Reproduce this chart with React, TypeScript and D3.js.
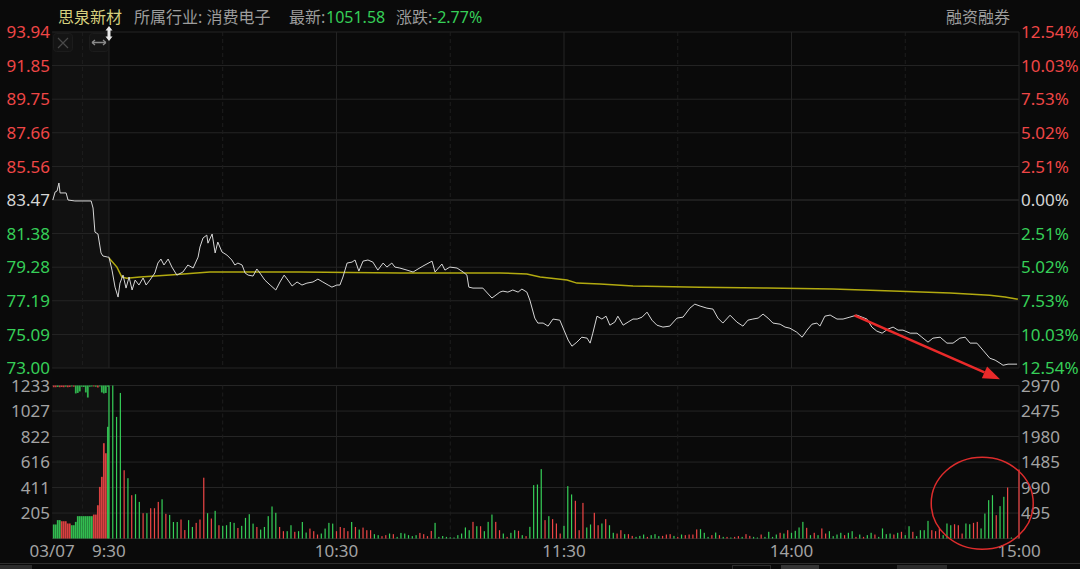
import React from 'react';
import * as d3 from 'd3';

// ---------- header texts ----------
const stockName = '思泉新材';
const industryLabel = '所属行业: 消费电子';
const latestLabel = '最新:';
const latestValue = '1051.58';
const changeLabel = '涨跌:';
const changeValue = '-2.77%';
const marginLabel = '融资融券';

// ---------- axes ----------
const prevClose = 83.47;
const priceTicks = [93.94, 91.85, 89.75, 87.66, 85.56, 83.47, 81.38, 79.28, 77.19, 75.09, 73.0];
const pctTicks = ['12.54%', '10.03%', '7.53%', '5.02%', '2.51%', '0.00%', '2.51%', '5.02%', '7.53%', '10.03%', '12.54%'];
const volTicksLeft = [1233, 1027, 822, 616, 411, 205];
const volTicksRight = ['2970', '2475', '1980', '1485', '990', '495'];
const timeTicks: [number, string][] = [[-15, '03/07'], [0, '9:30'], [60, '10:30'], [120, '11:30'], [180, '14:00'], [240, '15:00']];
const gridMinutes: [number, boolean][] = [[-7, true], [0, false], [30, true], [60, false], [90, true], [120, false], [150, true], [180, false], [210, true], [240, false]];

// ---------- price series: [minute from 9:30 (trading time), price] ----------
const pricePoints: [number, number][] = [
  [-14.8, 83.47], [-14.2, 83.97], [-13.7, 84.03], [-13.2, 84.53], [-12.9, 83.91], [-11.3, 83.91], [-10.8, 83.47],
  [-9.0, 83.41], [-4.7, 83.41], [-4.2, 82.97], [-3.7, 81.47], [-2.9, 81.35], [-2.1, 80.17], [-1.6, 79.98], [-0.3, 79.91],
  [0, 79.91], [0.8, 79.10], [1.6, 78.04], [2.4, 77.42], [2.9, 78.29], [3.7, 78.79], [4.5, 77.98], [5.3, 78.67],
  [6.1, 77.86], [6.9, 78.48], [7.9, 78.17], [9.0, 78.61], [9.8, 78.17], [10.8, 78.48], [12.1, 78.92], [12.9, 79.54],
  [13.7, 79.79], [14.5, 79.42], [15.6, 79.79], [16.6, 79.29], [17.9, 78.79], [19.5, 78.98], [20.8, 79.42], [22.2, 79.23],
  [23.5, 79.91], [24.0, 80.54], [24.8, 81.10], [25.8, 81.28], [26.1, 80.78], [27.2, 81.35], [28.0, 80.17], [28.7, 80.85],
  [29.8, 80.23], [31.1, 80.04], [32.4, 79.73], [33.2, 79.42], [34.0, 79.54], [35.1, 79.42], [35.9, 78.92], [36.7, 78.79],
  [38.0, 78.73], [39.0, 79.17], [39.8, 78.92], [41.1, 78.48], [42.5, 78.17], [44.0, 77.86], [45.1, 78.36], [46.2, 78.79],
  [47.2, 78.48], [48.3, 78.11], [49.6, 78.36], [50.9, 78.17], [52.2, 78.29], [53.8, 78.36], [55.1, 78.54], [56.4, 78.36],
  [57.8, 78.17], [58.8, 78.04], [60.1, 78.17], [60.9, 78.17], [61.7, 78.67], [62.8, 79.54], [64.1, 79.60], [64.9, 79.73],
  [65.9, 79.04], [67.0, 79.66], [68.3, 79.73], [69.6, 79.60], [70.9, 79.10], [72.3, 79.54], [73.3, 79.29], [74.6, 79.54],
  [75.4, 79.29], [76.7, 79.23], [78.6, 79.10], [80.2, 78.98], [81.5, 79.17], [82.8, 79.35], [85.2, 79.66], [86.0, 78.98],
  [87.8, 79.48], [88.6, 79.10], [89.9, 79.29], [91.8, 79.23], [93.4, 78.98], [94.4, 78.79], [94.9, 78.04], [96.0, 77.98],
  [98.6, 77.98], [101.0, 77.36], [103.1, 77.73], [103.9, 77.79], [105.2, 77.73], [106.5, 77.86], [107.9, 77.73], [108.9, 77.92],
  [110.2, 77.73], [111.0, 77.23], [112.3, 76.11], [113.1, 75.80], [114.5, 75.80], [115.8, 75.61], [117.1, 76.05], [118.9, 75.98],
  [120.0, 75.36], [121.1, 74.74], [122.1, 74.36], [123.4, 74.61], [124.7, 74.92], [126.1, 74.86], [126.9, 74.55], [127.6, 75.17],
  [128.7, 76.23], [130.0, 76.05], [131.1, 76.23], [132.1, 75.67], [133.4, 75.86], [134.2, 76.23], [135.6, 75.67], [136.9, 75.86],
  [138.2, 76.05], [139.3, 76.05], [140.6, 76.17], [141.9, 76.48], [143.2, 75.98], [144.5, 75.67], [146.1, 75.55], [147.9, 75.61],
  [149.8, 76.11], [151.4, 76.17], [153.2, 76.73], [154.5, 76.98], [155.9, 76.86], [157.7, 76.73], [159.3, 76.67], [160.6, 76.11],
  [161.9, 75.80], [163.8, 76.29], [165.6, 75.86], [167.2, 75.61], [168.5, 75.98], [169.8, 76.05], [171.2, 76.11], [172.5, 76.36],
  [173.8, 76.11], [175.1, 75.80], [177.0, 75.73], [178.3, 75.55], [179.6, 75.48], [181.4, 75.23], [182.8, 74.92], [184.1, 75.36],
  [185.4, 75.73], [186.7, 75.80], [187.5, 75.61], [188.8, 76.23], [190.2, 76.30], [192.0, 76.05], [193.6, 76.05], [195.4, 76.17],
  [197.2, 76.30], [198.6, 76.17], [199.9, 76.05], [201.2, 75.55], [202.5, 75.30], [203.9, 75.17], [205.4, 75.42], [206.8, 75.55],
  [208.1, 75.36], [209.4, 75.36], [211.3, 75.17], [213.1, 75.17], [214.4, 74.92], [216.0, 74.61], [217.3, 74.86], [219.2, 74.92],
  [221.0, 74.55], [222.6, 74.55], [224.4, 74.86], [225.8, 74.92], [227.1, 74.55], [228.9, 74.55], [230.5, 74.11], [232.3, 73.61],
  [233.7, 73.49], [235.0, 73.30], [235.8, 73.17], [237.1, 73.24], [239.5, 73.24],
];

// ---------- average price line ----------
const avgPoints: [number, number][] = [
  [0, 79.85], [2.1, 79.29], [3.4, 78.67], [4.7, 78.60], [8.2, 78.67], [16.1, 78.79], [26.6, 78.98], [50.4, 78.98],
  [76.7, 78.92], [103.1, 78.92], [110.2, 78.86], [113.7, 78.67], [120.8, 78.48], [123.4, 78.29], [129.5, 78.23],
  [138.2, 78.11], [155.9, 78.04], [173.5, 77.98], [190.9, 77.92], [208.6, 77.79], [221.8, 77.67], [232.3, 77.54],
  [236.3, 77.42], [239.7, 77.29],
];

// ---------- per-minute volume (minute 0..240), R = up, G = down ----------
const volumes: [number, string][] = [
  [1300, 'G'], [1400, 'G'], [980, 'G'], [1173, 'G'], [550, 'R'], [486, 'G'], [349, 'R'], [357, 'G'], [295, 'G'], [204, 'R'],
  [204, 'G'], [244, 'R'], [244, 'R'], [295, 'R'], [316, 'G'], [199, 'R'], [190, 'G'], [133, 'G'], [133, 'G'], [153, 'R'],
  [68, 'R'], [148, 'G'], [93, 'G'], [126, 'R'], [153, 'R'], [490, 'R'], [204, 'G'], [161, 'R'], [223, 'G'], [107, 'R'],
  [102, 'G'], [107, 'G'], [133, 'G'], [126, 'G'], [85, 'R'], [102, 'G'], [166, 'G'], [196, 'G'], [120, 'G'], [93, 'R'],
  [72, 'G'], [93, 'G'], [180, 'G'], [258, 'G'], [207, 'G'], [93, 'R'], [59, 'R'], [59, 'G'], [107, 'G'], [54, 'R'],
  [59, 'G'], [133, 'G'], [48, 'G'], [80, 'R'], [59, 'R'], [32, 'R'], [40, 'G'], [80, 'G'], [126, 'G'], [120, 'G'],
  [59, 'R'], [93, 'R'], [85, 'R'], [59, 'R'], [133, 'G'], [93, 'R'], [72, 'G'], [88, 'R'], [67, 'R'], [67, 'R'],
  [35, 'G'], [27, 'G'], [19, 'R'], [27, 'R'], [40, 'G'], [35, 'R'], [13, 'G'], [45, 'G'], [40, 'G'], [27, 'G'],
  [19, 'G'], [27, 'G'], [45, 'R'], [35, 'R'], [19, 'R'], [61, 'R'], [126, 'G'], [13, 'G'], [20, 'G'], [13, 'G'],
  [10, 'G'], [8, 'G'], [27, 'G'], [40, 'G'], [89, 'G'], [67, 'G'], [134, 'R'], [99, 'G'], [99, 'R'], [59, 'G'],
  [134, 'G'], [193, 'G'], [134, 'R'], [67, 'R'], [40, 'G'], [13, 'R'], [46, 'G'], [67, 'G'], [62, 'R'], [27, 'G'],
  [19, 'R'], [94, 'G'], [430, 'G'], [435, 'G'], [559, 'G'], [148, 'R'], [180, 'G'], [156, 'R'], [121, 'R'], [40, 'R'],
  [102, 'G'], [422, 'G'], [355, 'G'], [304, 'R'], [67, 'R'], [287, 'R'], [89, 'G'], [113, 'G'], [207, 'R'], [107, 'R'],
  [121, 'G'], [156, 'R'], [107, 'G'], [46, 'G'], [40, 'R'], [67, 'R'], [35, 'G'], [35, 'R'], [21, 'R'], [13, 'G'],
  [21, 'G'], [32, 'G'], [13, 'R'], [27, 'G'], [35, 'G'], [19, 'G'], [21, 'R'], [32, 'R'], [35, 'R'], [21, 'G'],
  [13, 'R'], [32, 'G'], [27, 'R'], [32, 'R'], [32, 'R'], [73, 'R'], [75, 'G'], [46, 'G'], [13, 'G'], [27, 'R'],
  [48, 'G'], [27, 'R'], [13, 'G'], [13, 'R'], [8, 'G'], [13, 'R'], [19, 'R'], [13, 'G'], [35, 'R'], [21, 'R'],
  [13, 'G'], [8, 'G'], [32, 'R'], [13, 'G'], [54, 'G'], [13, 'G'], [32, 'G'], [46, 'R'], [40, 'G'], [67, 'R'],
  [46, 'G'], [62, 'G'], [89, 'G'], [134, 'G'], [86, 'R'], [27, 'G'], [46, 'R'], [27, 'G'], [81, 'R'], [40, 'R'],
  [59, 'G'], [19, 'G'], [32, 'G'], [46, 'G'], [27, 'R'], [46, 'G'], [59, 'G'], [13, 'R'], [32, 'G'], [13, 'R'],
  [27, 'G'], [46, 'G'], [32, 'R'], [13, 'G'], [81, 'G'], [35, 'G'], [40, 'G'], [32, 'R'], [46, 'G'], [54, 'R'],
  [27, 'G'], [99, 'G'], [54, 'R'], [19, 'G'], [67, 'G'], [67, 'G'], [142, 'G'], [67, 'R'], [59, 'R'], [81, 'R'],
  [27, 'G'], [121, 'G'], [107, 'G'], [115, 'R'], [107, 'R'], [40, 'R'], [121, 'G'], [115, 'G'], [126, 'R'], [134, 'R'],
  [81, 'G'], [201, 'G'], [309, 'G'], [349, 'G'], [188, 'R'], [261, 'G'], [336, 'G'], [411, 'R'], [8, 'G'], [5, 'G'],
  [556, 'R'],
];

// ---------- pre-market (call auction) volume blocks ----------
const preVolumes: [number, string][] = [
  [113, 'G'], [113, 'G'], [148, 'G'], [148, 'G'], [139, 'R'], [139, 'R'], [139, 'R'], [121, 'R'], [121, 'R'], [107, 'G'],
  [107, 'G'], [134, 'G'], [180, 'G'], [180, 'G'], [180, 'G'], [180, 'G'], [180, 'G'], [180, 'G'], [180, 'G'], [180, 'G'],
  [193, 'R'], [193, 'R'], [268, 'R'], [416, 'R'], [497, 'R'], [768, 'R'], [687, 'R'], [900, 'G'],
];
const preTopVolumes: [number, string][] = [
  [14, 'R'], [14, 'R'], [12, 'G'], [14, 'R'], [12, 'R'], [14, 'R'], [10, 'G'], [14, 'R'], [12, 'R'], [8, 'G'],
  [10, 'R'], [64, 'G'], [60, 'G'], [48, 'G'], [10, 'G'], [12, 'G'], [56, 'G'], [97, 'G'], [10, 'G'], [8, 'G'],
  [8, 'R'], [10, 'G'], [16, 'R'], [8, 'G'], [56, 'G'], [64, 'G'], [60, 'G'], [10, 'G'],
];

// ---------- annotations (minute, price / volume) ----------
const arrowFrom: [number, number] = [196.6, 76.28];
const arrowTo: [number, number] = [235.0, 72.3];
const circleCenter: [number, number] = [230.3, 284];

const RED = '#ef4646';
const GREEN = '#36cf58';
const WHITE = '#d6d6d6';
const GREY = '#a3a3a3';
const GRID = '#252525';
const FONT = "'Noto Sans', 'Noto Sans CJK SC', sans-serif";

export default function App() {
  const W = 1080;
  const H = 569;
  const x = d3.scaleLinear().domain([-15, 240]).range([52.1, 1019]);
  const yP = d3.scaleLinear().domain([73.0, 93.94]).range([368, 32]);
  const yV = d3.scaleLinear().domain([0, 1233]).range([538.5, 385.5]);
  const priceLine = d3.line<[number, number]>().x((d) => x(d[0])).y((d) => yP(d[1]));
  const preBand = d3.scaleBand<number>().domain(d3.range(preVolumes.length)).range([x(-15) + 0.5, x(0)]).padding(0.12);

  const colorFor = (p: number) => (Math.abs(p - prevClose) < 0.005 ? WHITE : p > prevClose ? RED : GREEN);

  // arrow geometry
  const ax0 = x(arrowFrom[0]);
  const ay0 = yP(arrowFrom[1]);
  const ax1 = x(arrowTo[0]);
  const ay1 = yP(arrowTo[1]);
  const ang = Math.atan2(ay1 - ay0, ax1 - ax0);
  const headL = 17;
  const headW = 6.5;
  const bx = ax1 - headL * Math.cos(ang);
  const by = ay1 - headL * Math.sin(ang);
  const head = [
    [ax1, ay1],
    [bx + headW * Math.sin(ang), by - headW * Math.cos(ang)],
    [bx - headW * Math.sin(ang), by + headW * Math.cos(ang)],
  ];

  const volTop = yV(1233);
  const volBottom = yV(0);

  return (
    <svg width={W} height={H} style={{ position: 'absolute', left: 0, top: 0, background: '#0a0a0a' }} fontFamily={FONT}>
      <rect x={0} y={0} width={W} height={H} fill="#0a0a0a" />
      {/* pre-market shaded area */}
      <rect x={x(-15)} y={yP(93.94)} width={x(0) - x(-15)} height={yP(73) - yP(93.94)} fill="#111111" />
      <rect x={x(-15)} y={volTop} width={x(0) - x(-15)} height={volBottom - volTop} fill="#111111" />

      {/* horizontal grid - price */}
      {priceTicks.map((t) => (
        <line key={'hp' + t} x1={x(-15)} x2={x(240)} y1={yP(t)} y2={yP(t)} stroke={t === prevClose ? '#333' : GRID} strokeWidth={1} />
      ))}
      {/* horizontal grid - volume */}
      {[...volTicksLeft, 0].map((t) => (
        <line key={'hv' + t} x1={x(-15)} x2={x(240)} y1={yV(t)} y2={yV(t)} stroke={GRID} strokeWidth={1} />
      ))}
      {/* vertical grid */}
      {gridMinutes.map(([m, dashed]) => (
        <g key={'vg' + m}>
          <line x1={x(m)} x2={x(m)} y1={yP(93.94)} y2={yP(73)} stroke={dashed ? '#1e1e1e' : GRID} strokeDasharray={dashed ? '4,3' : undefined} />
          <line x1={x(m)} x2={x(m)} y1={volTop} y2={volBottom} stroke={dashed ? '#1e1e1e' : GRID} strokeDasharray={dashed ? '4,3' : undefined} />
        </g>
      ))}

      {/* header */}
      <text x={58} y={23} fontSize={16} fill="#d6cf7e">{stockName}</text>
      <text x={134} y={23} fontSize={16} fill="#9d9d9d">{industryLabel}</text>
      <text x={289} y={23} fontSize={16} fill="#9d9d9d">{latestLabel}</text>
      <text x={326} y={23} fontSize={16} fill={GREEN}>{latestValue}</text>
      <text x={396} y={23} fontSize={16} fill="#9d9d9d">{changeLabel}</text>
      <text x={432} y={23} fontSize={16} fill={GREEN}>{changeValue}</text>
      <text x={946} y={23} fontSize={16} fill="#9d9d9d">{marginLabel}</text>

      {/* price axis labels */}
      {priceTicks.map((t, i) => (
        <g key={'pl' + i}>
          <text x={50} y={yP(t)} dy="0.36em" textAnchor="end" fontSize={17} fill={colorFor(t)}>{t.toFixed(2)}</text>
          <text x={1021} y={yP(t)} dy="0.36em" textAnchor="start" fontSize={17} fill={colorFor(t)}>{pctTicks[i]}</text>
        </g>
      ))}
      {/* volume axis labels */}
      {volTicksLeft.map((t, i) => (
        <g key={'vl' + i}>
          <text x={50} y={yV(t)} dy="0.36em" textAnchor="end" fontSize={17} fill={GREY}>{t}</text>
          <text x={1021} y={yV(t)} dy="0.36em" textAnchor="start" fontSize={17} fill={GREY}>{volTicksRight[i]}</text>
        </g>
      ))}
      {/* time labels */}
      {timeTicks.map(([m, label]) => (
        <text key={'t' + label} x={x(m)} y={551} dy="0.36em" textAnchor="middle" fontSize={17} fill={GREY}>{label}</text>
      ))}

      {/* buttons at top-left */}
      <rect x={53.5} y={33.5} width={19} height={18} rx={3} fill="#141414" stroke="#1c1c1c" />
      <path d={`M58,38 L68,48 M68,38 L58,48`} stroke="#4a4a4a" strokeWidth={1.2} />
      <rect x={89.5} y={33.5} width={19} height={18} rx={3} fill="#141414" stroke="#1c1c1c" />
      <path d="M92,42.5 L106,42.5 M92,42.5 L95,40 M92,42.5 L95,45 M106,42.5 L103,40 M106,42.5 L103,45" stroke="#8a8a8a" strokeWidth={1.3} fill="none" />
      <path d="M109,26 L112.5,30.5 L105.5,30.5 Z M109,41 L112.5,36.5 L105.5,36.5 Z" fill="#e8e8e8" />
      <rect x={107.5} y={30} width={3} height={7} fill="#e8e8e8" />

      {/* pre-market volume blocks */}
      {preVolumes.map(([v, d], i) => (
        <rect key={'pv' + i} x={preBand(i)} y={yV(Math.min(v, 1233))} width={preBand.bandwidth()} height={volBottom - yV(Math.min(v, 1233))} fill={d === 'R' ? RED : GREEN} opacity={0.9} />
      ))}
      {preTopVolumes.map(([v, d], i) => (
        <rect key={'pt' + i} x={preBand(i)} y={volTop} width={preBand.bandwidth()} height={volBottom - yV(v)} fill={d === 'R' ? RED : GREEN} opacity={0.85} />
      ))}

      {/* minute volume bars */}
      {volumes.map(([v, d], i) => {
        const vv = Math.min(v, 1233);
        return (
          <rect key={'v' + i} x={x(i) - 0.6} y={yV(vv)} width={1.2} height={volBottom - yV(vv)} fill={d === 'R' ? RED : GREEN} />
        );
      })}

      {/* average price line */}
      <path d={priceLine(avgPoints) || ''} fill="none" stroke="#b2aa10" strokeWidth={1.5} />
      {/* price line */}
      <path d={priceLine(pricePoints) || ''} fill="none" stroke={WHITE} strokeWidth={1} />

      {/* annotations */}
      <line x1={ax0} y1={ay0} x2={bx} y2={by} stroke="#ea2a2a" strokeWidth={2.6} />
      <polygon points={head.map((p) => p.join(',')).join(' ')} fill="#ea2a2a" />
      <ellipse cx={x(circleCenter[0])} cy={yV(circleCenter[1])} rx={51} ry={46} fill="none" stroke="#dd2c2c" strokeWidth={1.5} />

      {/* bottom separator and scrollbar bits */}
      <line x1={0} x2={W} y1={563.5} y2={563.5} stroke="#2e2e2e" />
      <rect x={0} y={565} width={32} height={4} fill="#2c2c2c" />
      <rect x={732.5} y={565.5} width={38} height={4} fill="none" stroke="#2c2c2c" />
      <rect x={781} y={565} width={38} height={4} fill="#353535" />
      <rect x={897} y={565} width={50} height={4} fill="#2c2c2c" />
    </svg>
  );
}
